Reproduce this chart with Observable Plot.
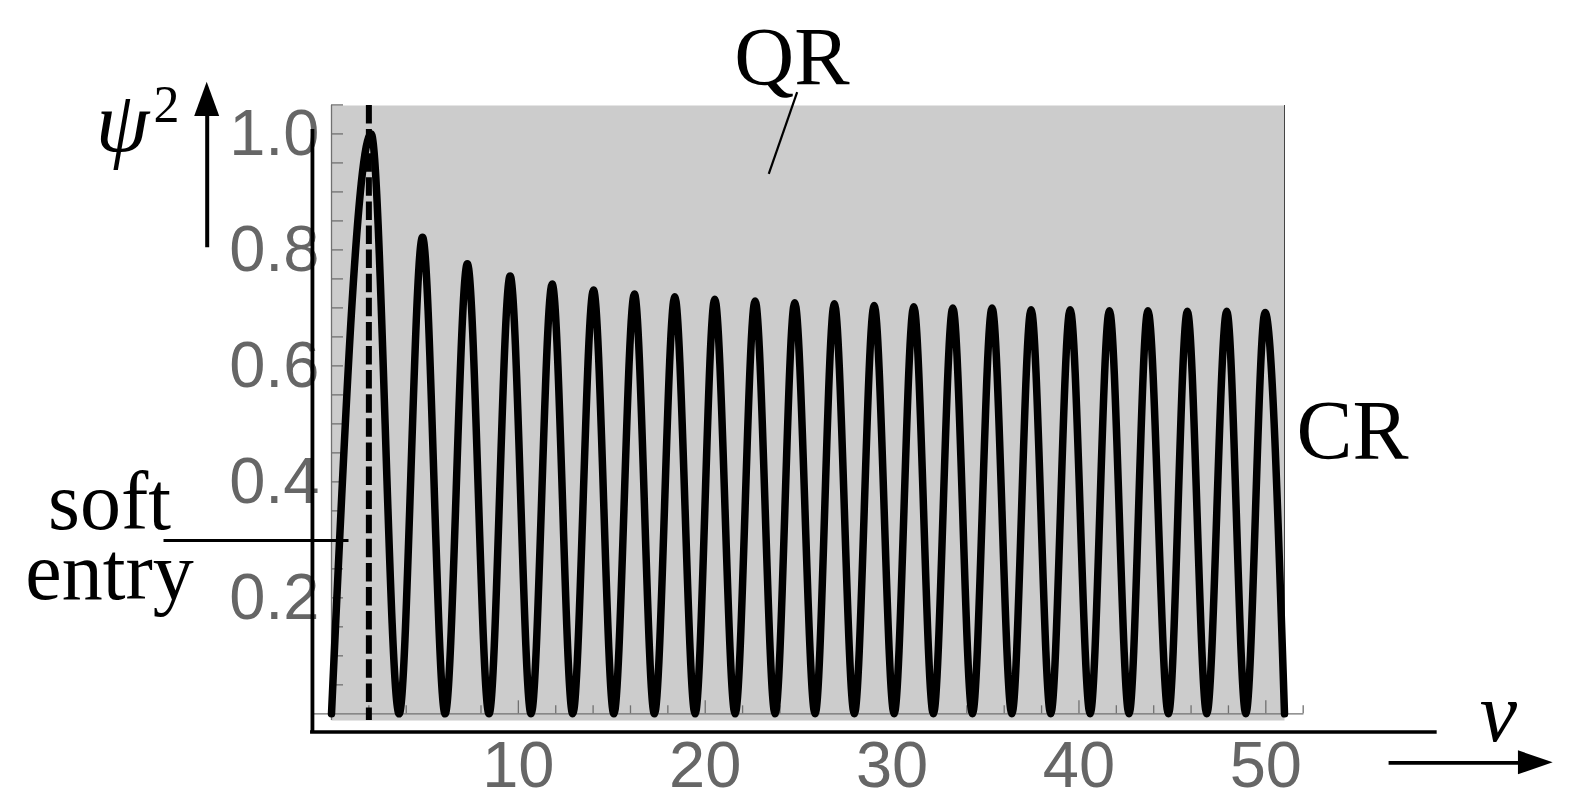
<!DOCTYPE html>
<html><head><meta charset="utf-8">
<script src="https://cdn.jsdelivr.net/npm/d3@7"></script>
<script src="https://cdn.jsdelivr.net/npm/@observablehq/plot@0.6"></script>
<style>html,body{margin:0;padding:0;background:#fff} svg{display:block}</style>
</head><body><div id="chart"></div>
<script>
// Peaks (v, psi^2) and zeros of the oscillation
const peakV = [2.12, 4.87, 7.27, 9.56, 11.81, 14.02, 16.21, 18.37, 20.51, 22.67, 24.79, 26.91, 29.04, 31.16, 33.25, 35.35, 37.44, 39.53, 41.63, 43.69, 45.80, 47.91, 49.96];
const peakPsi2 = [1.0, 0.822, 0.776, 0.755, 0.741, 0.731, 0.724, 0.719, 0.715, 0.712, 0.709, 0.707, 0.704, 0.702, 0.700, 0.700, 0.697, 0.697, 0.695, 0.695, 0.694, 0.694, 0.692];
const zeroV = [3.62, 6.08, 8.43, 10.68, 12.91, 15.11, 17.28, 19.46, 21.60, 23.74, 25.88, 27.98, 30.11, 32.21, 34.30, 36.41, 38.49, 40.60, 42.68, 44.79, 46.84, 48.93, 51.0];
const startV = 0;
const softEntryV = 2;
// Tick values
const xTickLabels = [10, 20, 30, 40, 50];
const xMajorTicks = [10, 20, 30, 40, 50];
const xMinorTicks = [2, 4, 6, 8, 12, 14, 16, 18, 22, 24, 26, 28, 32, 34, 36, 38, 42, 44, 46, 48, 52];
const yTickLabels = [0.2, 0.4, 0.6, 0.8, 1.0];
const yTicks = [0.05, 0.1, 0.15, 0.2, 0.25, 0.3, 0.35, 0.4, 0.45, 0.5, 0.55, 0.6, 0.65, 0.7, 0.75, 0.8, 0.85, 0.9, 0.95, 1.0, 1.05];

// Build the curve table
const curve = [{v: startV, psi2: 0}];
peakV.forEach((p, i) => {
  curve.push({v: p, psi2: peakPsi2[i]});
  curve.push({v: zeroV[i], psi2: 0});
});

const Y0 = -0.0115, Y1 = 1.049;
const pxX = 953 / 51, pxY = 615 / (Y1 - Y0);
const serif = "Liberation Serif";

const chart = Plot.plot({
  width: 1577,
  height: 805,
  marginLeft: 331,
  marginRight: 293,
  marginTop: 105,
  marginBottom: 85,
  x: {domain: [0, 51]},
  y: {domain: [Y0, Y1]},
  style: {fontFamily: "Liberation Sans", background: "white", overflow: "visible"},
  marks: [
    Plot.frame({fill: "#cccccc", stroke: "none"}),
    Plot.axisY(yTickLabels, {anchor: "left", tickSize: 0, tickPadding: 12, fontSize: 65, color: "#666", tickFormat: ".1f", label: null, fontFamily: "Liberation Sans"}),
    Plot.axisX(xTickLabels, {anchor: "bottom", tickSize: 0, tickPadding: 20, fontSize: 65, color: "#666", label: null, fontFamily: "Liberation Sans"}),
    // inner axis lines
    Plot.ruleY([0], {x1: -0.98, x2: 52.04, stroke: "#707070", strokeWidth: 1.3}),
    Plot.ruleX([0], {y1: Y0, y2: Y1, stroke: "#707070", strokeWidth: 1.3}),
    Plot.ruleX(xMinorTicks, {y1: 0, y2: 8 / pxY, stroke: "#707070", strokeWidth: 1.3}),
    Plot.ruleX(xMajorTicks, {y1: 0, y2: 13 / pxY, stroke: "#707070", strokeWidth: 1.3}),
    Plot.ruleY(yTicks, {x1: 0, x2: 12 / pxX, stroke: "#707070", strokeWidth: 1.3}),
    Plot.ruleX([51], {y1: 0, y2: Y1, stroke: "#444", strokeWidth: 1}),
    // the curve
    Plot.line(curve, {x: "v", y: "psi2", curve: "monotone-x", stroke: "black", strokeWidth: 7.5, strokeLinejoin: "round"}),
    // soft entry dashed line
    Plot.ruleX([softEntryV], {y1: Y1, y2: Y0, stroke: "black", strokeWidth: 6, strokeDasharray: "18.5,5.6"}),
    // outer black axes
    Plot.ruleX([-1.02], {y1: 1.0076, y2: -0.034, stroke: "black", strokeWidth: 3.8}),
    Plot.ruleY([-0.0314], {x1: -1.12, x2: 59.17, stroke: "black", strokeWidth: 3.6}),
    // psi^2 arrow
    Plot.link([{a: -6.652, b: 0.8046, c: -6.652, d: 1.035}], {x1: "a", y1: "b", x2: "c", y2: "d", stroke: "black", strokeWidth: 4}),
    Plot.areaX([{y: 1.030, x1: -6.652 - 12.5 / pxX, x2: -6.652 + 12.5 / pxX}, {y: 1.0892, x1: -6.652, x2: -6.652}], {y: "y", x1: "x1", x2: "x2", fill: "black"}),
    // v arrow
    Plot.link([{a: 56.57, b: -0.0845, c: 63.8, d: -0.0845}], {x1: "a", y1: "b", x2: "c", y2: "d", stroke: "black", strokeWidth: 3.8}),
    Plot.areaY([{x: 63.52, y1: -0.0845 - 12 / pxY, y2: -0.0845 + 12 / pxY}, {x: 65.38, y1: -0.0845, y2: -0.0845}], {x: "x", y1: "y1", y2: "y2", fill: "black"}),
    // QR pointer
    Plot.link([{a: 24.92, b: 1.0719, c: 23.40, d: 0.9312}], {x1: "a", y1: "b", x2: "c", y2: "d", stroke: "black", strokeWidth: 2.2}),
    // soft entry pointer
    Plot.link([{a: -8.99, b: 0.2988, c: 0.91, d: 0.2988}], {x1: "a", y1: "b", x2: "c", y2: "d", stroke: "black", strokeWidth: 3}),
    // labels
    Plot.text([{x: 24.64, y: 1.0864, t: "QR"}], {x: "x", y: "y", text: "t", fontFamily: serif, fontSize: 83, lineAnchor: "bottom", textAnchor: "middle", fill: "black"}),
    Plot.text([{x: 51.64, y: 0.4397, t: "CR"}], {x: "x", y: "y", text: "t", fontFamily: serif, fontSize: 84, lineAnchor: "bottom", textAnchor: "start", fill: "black"}),
    Plot.text([{x: -11.88, y: 0.1988, t: "soft\nentry"}], {x: "x", y: "y", text: "t", fontFamily: serif, fontSize: 82, lineHeight: 0.854, lineAnchor: "bottom", textAnchor: "middle", fill: "black"}),
    Plot.text([{x: -11.185, y: 0.9714, t: "ψ"}], {x: "x", y: "y", text: "t", fontFamily: serif, fontStyle: "italic", fontSize: 86, lineAnchor: "bottom", textAnchor: "middle", fill: "black"}),
    Plot.text([{x: -9.526, y: 1.0202, t: "2"}], {x: "x", y: "y", text: "t", fontFamily: serif, fontSize: 52, lineAnchor: "bottom", textAnchor: "start", fill: "black"}),
    Plot.text([{x: 62.45, y: -0.046, t: "v"}], {x: "x", y: "y", text: "t", fontFamily: serif, fontStyle: "italic", fontSize: 84, lineAnchor: "bottom", textAnchor: "middle", fill: "black"})
  ]
});
document.getElementById("chart").appendChild(chart);
</script>
</body></html>
